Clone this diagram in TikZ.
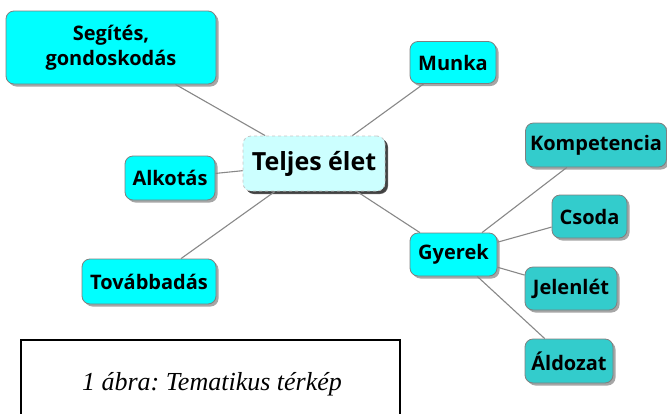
\documentclass[tikz,border=0pt]{standalone}
\usepackage{fontspec}
\setmainfont{Open Sans}
\newfontfamily\capfont{Liberation Serif}
\usetikzlibrary{shadows}
\definecolor{cyanA}{HTML}{00FFFF}
\definecolor{tealB}{HTML}{33CCCC}
\definecolor{lightC}{HTML}{CCFFFF}
\definecolor{edgeC}{HTML}{888888}
\definecolor{borderC}{HTML}{7F7F7F}
\frenchspacing
\begin{document}
\begin{tikzpicture}[x=1pt,y=-1pt,
  box/.style={draw=borderC, line width=0.8pt, rounded corners=8pt, inner sep=0pt, align=center,
    font=\bfseries\fontsize{20}{25}\selectfont,
    drop shadow={shadow xshift=2.5pt, shadow yshift=-2.5pt, fill=black, opacity=0.35}},
  main/.style={box, fill=cyanA},
  sub/.style={box, fill=tealB},
  root/.style={box, fill=lightC, draw=gray!45, dashed, font=\bfseries\fontsize{25}{30}\selectfont,
    drop shadow={shadow xshift=3pt, shadow yshift=-3pt, fill=black, opacity=0.6}},
  link/.style={draw=edgeC, line width=1.1pt},
  capbox/.style={draw=black, line width=1.3pt}]
\useasboundingbox (0,0) rectangle (667,413);
\clip (0,0) rectangle (667,413);
\node[main, minimum width=210pt, minimum height=73pt] (seg) at (111,47.5) {Segítés,\\gondoskodás};
\node[main, minimum width=86pt, minimum height=42pt] (munka) at (453,62.5) {Munka};
\node[root, minimum width=142pt, minimum height=55pt] (teljes) at (314,163.5) {Teljes élet};
\node[main, minimum width=90pt, minimum height=44pt] (alk) at (170,178) {Alkotás};
\node[main, minimum width=134pt, minimum height=45pt] (tov) at (149,281.5) {Továbbadás};
\node[main, minimum width=87pt, minimum height=43pt] (gyer) at (453.5,254.5) {Gyerek};
\node[sub, minimum width=141pt, minimum height=44pt] (komp) at (596,145) {Kompetencia};
\node[sub, minimum width=75pt, minimum height=43pt] (csoda) at (589.5,216.5) {Csoda};
\node[sub, minimum width=92pt, minimum height=43pt] (jel) at (571,288.5) {Jelenlét};
\node[sub, minimum width=88pt, minimum height=44pt] (ald) at (569,361) {Áldozat};
\draw[link] (teljes) -- (seg);
\draw[link] (teljes) -- (munka);
\draw[link] (teljes) -- (alk);
\draw[link] (teljes) -- (tov);
\draw[link] (teljes) -- (gyer);
\draw[link] (gyer) -- (komp);
\draw[link] (gyer) -- (csoda);
\draw[link] (gyer) -- (jel);
\draw[link] (gyer) -- (ald);
\node[capbox, minimum width=379pt, minimum height=90pt, inner sep=0pt] (capt) at (210.5,385) {};
\node[font=\capfont\itshape\fontsize{26}{30}\selectfont] (captext) at (212,384) {1 ábra: Tematikus térkép};
\end{tikzpicture}
\end{document}
